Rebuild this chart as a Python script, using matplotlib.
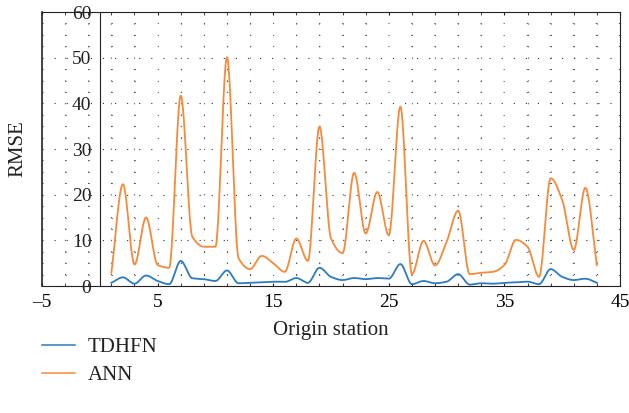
import numpy as np
import matplotlib
matplotlib.use("Agg")
import matplotlib.pyplot as plt
from matplotlib.ticker import MultipleLocator, FixedLocator

stations = list(range(1, 44))
tdhfn = [0.7, 1.9, 0.5, 2.3, 1.1, 0.4, 5.5, 1.7, 1.5, 1.1,
         3.4, 0.6, 0.7, 0.8, 0.95, 0.9, 1.75, 0.7, 4.0, 2.0,
         1.3, 1.75, 1.5, 1.75, 1.6, 4.8, 0.4, 1.1, 0.6, 0.95,
         2.6, 0.3, 0.6, 0.5, 0.7, 0.8, 0.95, 0.4, 3.7, 2.0,
         1.3, 1.6, 0.7]
ann = [2.9, 22.3, 4.7, 15.0, 4.6, 4.0, 41.7, 10.8, 8.6, 8.6,
       50.1, 6.1, 3.7, 6.6, 5.0, 3.1, 10.4, 5.5, 34.9, 10.4,
       7.2, 24.8, 11.5, 20.6, 11.1, 39.3, 2.6, 9.9, 4.5, 9.7,
       16.5, 2.6, 2.9, 3.1, 4.6, 10.1, 8.6, 2.0, 23.6, 18.8,
       7.9, 21.5, 4.6]
x_ticks = [-5, 5, 15, 25, 35, 45]
x_ticklabels = ["\u20135", "5", "15", "25", "35", "45"]
y_ticks = [0, 10, 20, 30, 40, 50, 60]


def pchip(x, y, n_per=24):
    # shape-preserving smooth rendering of the line through the data points
    x = np.asarray(x, float)
    y = np.asarray(y, float)
    n = len(x)
    h = np.diff(x)
    delta = np.diff(y) / h
    d = np.zeros(n)
    for k in range(1, n - 1):
        if delta[k - 1] * delta[k] > 0:
            w1 = 2 * h[k] + h[k - 1]
            w2 = h[k] + 2 * h[k - 1]
            d[k] = (w1 + w2) / (w1 / delta[k - 1] + w2 / delta[k])
    d[0] = delta[0]
    d[-1] = delta[-1]
    xs, ys = [], []
    for i in range(n - 1):
        t = np.linspace(0, 1, n_per, endpoint=(i == n - 2))
        h00 = 2 * t ** 3 - 3 * t ** 2 + 1
        h10 = t ** 3 - 2 * t ** 2 + t
        h01 = -2 * t ** 3 + 3 * t ** 2
        h11 = t ** 3 - t ** 2
        xs.append(x[i] + t * h[i])
        ys.append(h00 * y[i] + h10 * h[i] * d[i] + h01 * y[i + 1]
                  + h11 * h[i] * d[i + 1])
    return np.concatenate(xs), np.concatenate(ys)


plt.rcParams['font.family'] = ['Liberation Serif', 'DejaVu Serif']
plt.rcParams['lines.scale_dashes'] = False

fig = plt.figure(figsize=(6.29, 4.13), dpi=100)
ax = fig.add_axes([0.0668, 0.3075, 0.9189, 0.6634])

sx, sy = pchip(stations, tdhfn)
ax.plot(sx, sy, color='#2b7bbf', lw=1.3, label='TDHFN', zorder=3)
sx, sy = pchip(stations, ann)
ax.plot(sx, sy, color='#f58a3a', lw=1.3, label='ANN', zorder=3)

ax.set_xlim(-5, 45)
ax.set_ylim(0, 60)
ax.xaxis.set_major_locator(FixedLocator(x_ticks))
ax.set_xticklabels(x_ticklabels)
ax.xaxis.set_minor_locator(FixedLocator(np.arange(-5, 46, 2)))
ax.yaxis.set_major_locator(FixedLocator(y_ticks))
ax.yaxis.set_minor_locator(MultipleLocator(2.5))

# grid: dotted
ax.grid(True, which='minor', axis='x', color='#555555', lw=0.8,
        linestyle=(0, (0.8, 7.4)))
ax.grid(True, which='minor', axis='y', color='#555555', lw=0.8,
        linestyle=(0, (0.8, 15.8)))
ax.grid(True, which='major', axis='y', color='#333333', lw=0.8,
        linestyle=(0, (0.8, 7.9)))
ax.grid(False, which='major', axis='x')
ax.set_axisbelow(True)

# y axis drawn at x = 0
ax.spines['left'].set_position(('data', 0))
ax.spines['left'].set_color('#222222')
for s in ['top', 'right', 'bottom']:
    ax.spines[s].set_color('#222222')
ax.plot([0, 0], [0, 1], transform=ax.transAxes, color='#222222', lw=1.2,
        clip_on=False, zorder=4)

ax.tick_params(axis='x', which='both', direction='in', top=True,
               labelsize=14, pad=6, length=2.5, color='#222222')
ax.tick_params(axis='y', which='both', length=0, labelsize=14, pad=6,
               colors='#222222')
for lab in ax.get_yticklabels():
    lab.set_zorder(5)

ax.set_xlabel('Origin station', fontsize=15, color='#222222', labelpad=7)
ax.set_ylabel('RMSE', fontsize=15, color='#222222')
ax.yaxis.set_label_coords(-0.026, 0.5, transform=ax.transAxes)

leg = fig.legend(loc='upper left', bbox_to_anchor=(0.0668, 0.183), frameon=False,
                 fontsize=15, handlelength=1.6, handletextpad=0.6,
                 labelspacing=0.42, borderpad=0, borderaxespad=0,
                 labelcolor='#222222')
for line in leg.get_lines():
    line.set_linewidth(1.1)

fig.savefig('out.png', dpi=100)
